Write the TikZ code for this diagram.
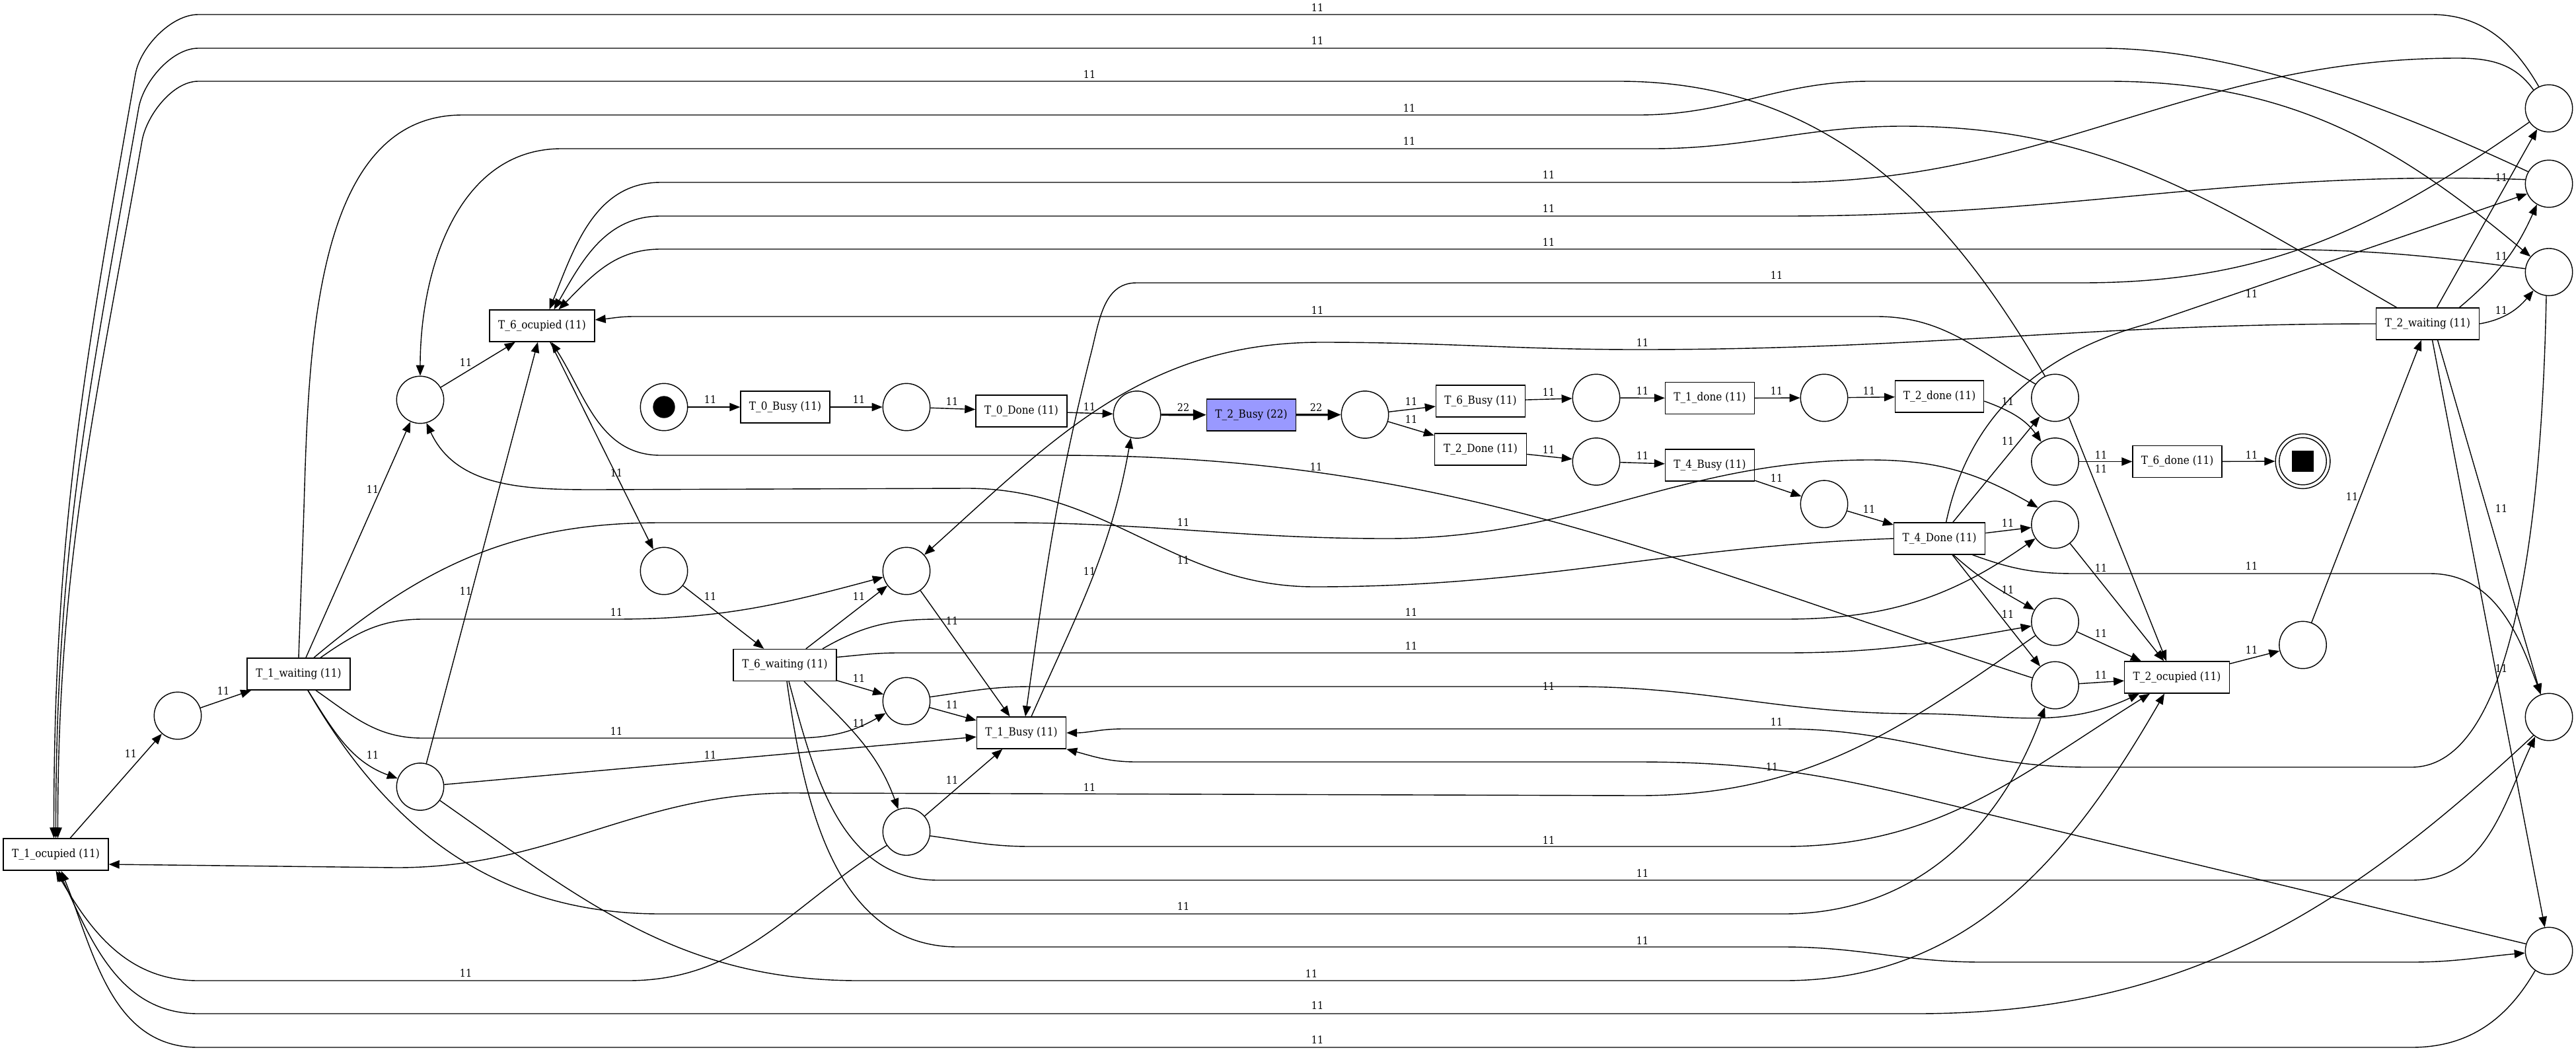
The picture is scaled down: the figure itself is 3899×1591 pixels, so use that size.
\documentclass[tikz,border=0pt]{standalone}
\usepackage{fontspec}
\newfontfamily\netfont[FakeStretch=0.9]{DejaVu Serif}
\usetikzlibrary{arrows.meta}
\definecolor{busyfill}{RGB}{153,153,255}
\begin{document}
\begin{tikzpicture}[x=0.5pt,y=-0.5pt,
  place/.style={circle, draw, fill=white, line width=0.7pt, minimum size=35.7pt, inner sep=0pt},
  trans/.style={rectangle, draw, fill=white, line width=0.7pt, minimum height=24pt, minimum width=#1, inner sep=0pt, font=\netfont\fontsize{8.5}{10}\selectfont},
  trans/.default=67.5pt,
  arc/.style={line width=0.7pt, -{Triangle[length=8pt,width=6.25pt]}},
  heavyarc/.style={line width=1.6pt, -{Triangle[length=10pt,width=8pt]}},
  lab/.style={inner sep=0pt, font=\netfont\fontsize{8}{9.5}\selectfont},
]
\fill[white] (0,0) rectangle (3899,1591);
\useasboundingbox (0,0) rectangle (3899,1591);

% transitions
\node[trans=79.5pt] (T1oc) at (84.5,1293) {T\_1\_ocupied (11)};
\node[trans=78pt] (T1w) at (452,1020) {T\_1\_waiting (11)};
\node[trans=79.5pt] (T6oc) at (820.5,493) {T\_6\_ocupied (11)};
\node[trans=67.5pt] (T0B) at (1188.5,616) {T\_0\_Busy (11)};
\node[trans=69pt] (T0D) at (1546,622) {T\_0\_Done (11)};
\node[trans=67.5pt, fill=busyfill] (T2B) at (1894,628) {T\_2\_Busy (22)};
\node[trans=78pt] (T6w) at (1188,1006.5) {T\_6\_waiting (11)};
\node[trans=67.5pt] (T1B) at (1546,1109) {T\_1\_Busy (11)};
\node[trans=67.5pt] (T6B) at (2241,607) {T\_6\_Busy (11)};
\node[trans=69.5pt] (T2D) at (2241,680) {T\_2\_Done (11)};
\node[trans=67.5pt] (T1d) at (2588,602.5) {T\_1\_done (11)};
\node[trans=67.5pt] (T4B) at (2588,704) {T\_4\_Busy (11)};
\node[trans=67pt] (T2d) at (2935.6,600) {T\_2\_done (11)};
\node[trans=69pt] (T4D) at (2935.6,815) {T\_4\_Done (11)};
\node[trans=67.5pt] (T6d) at (3295.5,698.5) {T\_6\_done (11)};
\node[trans=78pt] (T2w) at (3674.5,490) {T\_2\_waiting (11)};
\node[trans=79.25pt] (T2oc) at (3295,1025) {T\_2\_ocupied (11)};

% places
\node[place] (pA) at (636,605) {};
\node[place] (pB) at (269,1083) {};
\node[place] (pC) at (636,1190.5) {};
\node[place] (pS0) at (1005,616) {};
\node[circle, fill=black, minimum size=16.7pt, inner sep=0pt] (tok) at (pS0) {};
\node[place] (pD) at (1372,616) {};
\node[place] (pE) at (1721,627.5) {};
\node[place] (pF) at (1005,864) {};
\node[place] (pG) at (1372,864) {};
\node[place] (pH) at (1372,1061) {};
\node[place] (pI) at (1372,1258.6) {};
\node[place] (pJ) at (2066,627.5) {};
\node[place] (pK) at (2416,602) {};
\node[place] (pL) at (2416,698.5) {};
\node[place] (pM) at (2761,602) {};
\node[place] (pN) at (2761,762.8) {};
\node[place] (pO) at (3110.5,602) {};
\node[place] (pP) at (3110.5,698.5) {};
\node[circle, draw, line width=0.7pt, minimum size=41.4pt, inner sep=0pt] (pEndo) at (3485.5,698) {};
\node[place] (pEnd) at (3485.5,698) {};
\node[fill=black, minimum size=16.3pt, inner sep=0pt] (sq) at (pEnd) {};
\node[place] (pQ) at (3858,164) {};
\node[place] (pR) at (3858,278) {};
\node[place] (pS) at (3858,411.7) {};
\node[place] (pT) at (3110.5,794) {};
\node[place] (pU) at (3110.5,941) {};
\node[place] (pV) at (3110.5,1037) {};
\node[place] (pW) at (3485.5,976) {};
\node[place] (pX) at (3858,1085) {};
\node[place] (pY) at (3858,1439) {};

% main chain
\draw[arc] (pS0) -- (T0B);
\draw[arc] (T0B) -- (pD);
\draw[arc] (pD) -- (T0D);
\draw[arc] (T0D) -- (pE);
\draw[heavyarc] (pE) -- (T2B);
\draw[heavyarc] (T2B) -- (pJ);
\draw[arc] (pJ) -- (T6B);
\draw[arc] (pJ) -- (T2D);
\draw[arc] (T6B) -- (pK);
\draw[arc] (pK) -- (T1d);
\draw[arc] (T1d) -- (pM);
\draw[arc] (pM) -- (T2d);
\draw[arc] (T2D) -- (pL);
\draw[arc] (pL) -- (T4B);
\draw[arc] (T4B) -- (pN);
\draw[arc] (pN) -- (T4D);
\draw[arc] ([yshift=-3.5pt]T2d.east) to[out=-20,in=125] (pP.125);
\draw[arc] (pP) -- (T6d);
\draw[arc] (T6d) -- (pEndo);

% T_4_Done outputs
\draw[arc] (T4D) -- (pO);
\draw[arc] ([xshift=5pt]T4D.north) to[out=78,in=195] (3251,490) -- (pR.205);
\draw[arc] (T4D) -- (pT);
\draw[arc] ([xshift=10.5pt]T4D.south) to[out=-42,in=150] (pU.150);
\draw[arc] (T4D) -- (pV);
\draw[arc] ([xshift=25pt]T4D.south) to[out=-20,in=180] (3140,868) -- (3678,868) to[out=0,in=110] (pX.110);
\draw[arc] (T4D.west) to[out=182,in=0] (1990,888) to[out=180,in=0] (1464,739) -- (900,741) to[out=180,in=-65] (pA.-75);

% T_2_waiting outputs
\draw[arc] (T2w) -- (pQ);
\draw[arc] ([xshift=24pt]T2w.north) to[out=40,in=-114] (pR.-120);
\draw[arc] (T2w.east) to[out=10,in=-130] (pS.-130);
\draw[arc] ([xshift=7.5pt]T2w.south) -- (pX.110);
\draw[arc] ([xshift=3.5pt]T2w.south) -- (pY.100);
\draw[arc] ([xshift=-23.5pt]T2w.north) to[out=150,in=0] (2880,191) to[out=180,in=0] (2500,225) -- (850,225) to[out=180,in=90] (pA.north);
\draw[arc] (T2w.west) to[out=180,in=0] (2480,529) to[out=180,in=0] (2000,518) to[out=180,in=42] (pG.42);
\draw[arc] (T2oc) -- (pW);
\draw[arc] (pW) -- (T2w);

% T_1_waiting outputs
\draw[arc] (T1w.north) -- (459,800) to[out=88,in=180,looseness=0.9] (700,174) -- (2480,174) to[out=0,in=180] (2830,123) -- (3190,123) to[out=0,in=140] (pS.140);
\draw[arc] (T1w) -- (pA);
\draw[arc] ([xshift=11.5pt]T1w.north) to[out=40,in=180] (1000,791) -- (1520,791) to[out=0,in=180] (2100,815) to[out=0,in=180] (2830,696) to[out=0,in=150] (pT.135);
\draw[arc] ([xshift=16.5pt]T1w.north) to[out=35,in=180] (640,937) -- (930,937) to[out=0,in=195] (pG.195);
\draw[arc] ([xshift=13pt]T1w.south) to[out=-35,in=180] (640,1117) -- (1200,1117) to[out=0,in=210] (pH.210);
\draw[arc] ([xshift=7pt]T1w.south) to[out=-58,in=160] (pC.160);
\draw[arc] ([xshift=7pt]T1w.south) to[out=-60,in=180] (1000,1383) -- (2700,1383) to[out=0,in=-110] (pV.-115);
\draw[arc] (pB) -- (T1w);
\draw[arc] (T1oc) -- (pB);

% T_6_waiting outputs
\draw[arc] (T6oc) -- (pF);
\draw[arc] (pF) -- (T6w);
\draw[arc] (T6w) -- (pG);
\draw[arc] (T6w) -- (pH);
\draw[arc] ([xshift=14.5pt]T6w.south) to[out=-45,in=110] (pI.110);
\draw[arc] ([xshift=28.5pt]T6w.north) to[out=30,in=180] (1420,937) -- (2700,937) to[out=0,in=215] (pT.215);
\draw[arc] ([yshift=6pt]T6w.east) to[out=5,in=180] (1360,988) -- (2700,988) to[out=0,in=190] (pU.190);
\draw[arc] ([xshift=3pt]T6w.south) to[out=-75,in=180] (1420,1332) -- (3650,1332) to[out=0,in=-115] (pX.-125);
\draw[arc] ([xshift=1.5pt]T6w.south) to[out=-82,in=180] (1450,1433) -- (2700,1433) to[out=0,in=180] (3000,1456) -- (3650,1456) to[out=0,in=185] (pY.185);

% inputs of T_6_ocupied
\draw[arc] (pA) -- (T6oc);
\draw[arc] (pC) -- (T6oc);
\draw[arc] (pQ.130) to[out=125,in=0] (3720,88) to[out=180,in=0] (2700,276) -- (1000,276) to[out=180,in=68] ([xshift=5.5pt]T6oc.north);
\draw[arc] (pR.170) to[out=178,in=0] (2700,327) -- (1000,327) to[out=180,in=60] ([xshift=9pt]T6oc.north);
\draw[arc] (pS.172) to[out=172,in=0] (3400,377) -- (1000,377) to[out=180,in=45] ([xshift=12.5pt]T6oc.north);
\draw[arc] (pO.145) to[out=150,in=0] (2840,479) -- (960,479) to[out=180,in=5] ([yshift=4.5pt]T6oc.east);
\draw[arc] (pV.162) to[out=162,in=0] (1600,689) -- (1000,689) to[out=180,in=-57] ([xshift=7pt]T6oc.south);

% inputs of T_1_ocupied
\draw[arc] (pQ.115) to[out=120,in=0] (3680,22) -- (300,22) to[out=180,in=80,looseness=0.8] (205,112) to[out=260,in=90] ([xshift=-1.5pt]T1oc.north);
\draw[arc] (pR.150) to[out=155,in=0,looseness=0.8] (3180,73) -- (300,73) to[out=180,in=80,looseness=0.8] (210,163) to[out=260,in=90] (T1oc.north);
\draw[arc] (pO.115) to[out=120,in=0] (2450,123) -- (300,123) to[out=180,in=80,looseness=0.8] (215,213) to[out=260,in=90] ([xshift=1.5pt]T1oc.north);
\draw[arc] (pU.215) to[out=215,in=0] (2480,1204) -- (1200,1200) to[out=180,in=0] (600,1313) -- ([yshift=-7.5pt]T1oc.east);
\draw[arc] (pI.215) to[out=212,in=0] (950,1484) -- (300,1484) to[out=180,in=-60] (T1oc.south);
\draw[arc] (pX.230) to[out=223,in=0] (2900,1534) -- (300,1534) to[out=180,in=-65] ([xshift=2pt]T1oc.south);
\draw[arc] (pY.235) to[out=240,in=0] (3650,1585) -- (300,1585) to[out=180,in=-68] ([xshift=4pt]T1oc.south);

% inputs of T_1_Busy
\draw[arc] (pG) -- (T1B);
\draw[arc] (pH) -- (T1B);
\draw[arc] (pI) -- (T1B);
\draw[arc] (pC) -- (T1B);
\draw[arc] (pQ.215) to[out=215,in=0] (3150,428) -- (1720,428) to[out=180,in=75] (1650,540) to[out=256,in=82] ([xshift=3pt]T1B.north);
\draw[arc] ([xshift=-2pt]pS.south) .. controls (3845,900) and (3780,1161) .. (3650,1161) -- (3160,1161) to[out=180,in=0] (2700,1103) -- (1700,1103) to[out=180,in=0] (T1B.east);
\draw[arc] (pY.163) -- (3000,1230) to[out=166,in=0] (2480,1153) -- (1720,1153) to[out=180,in=-15] (T1B.south east);
\draw[arc] ([xshift=7.5pt]T1B.north) to[out=66,in=-100] (pE.-105);

% inputs of T_2_ocupied
\draw[arc] (pT) -- (T2oc);
\draw[arc] (pO.-55) -- ([xshift=-8pt]T2oc.north);
\draw[arc] (pU) -- (T2oc);
\draw[arc] (pV) -- (T2oc);
\draw[arc] (pH.10) to[out=8,in=180] (1560,1039) -- (2380,1039) to[out=0,in=180] (2900,1080) to[out=0,in=205] ([xshift=-28.5pt]T2oc.south);
\draw[arc] (pI.-10) to[out=-8,in=180] (1560,1281) -- (2700,1281) to[out=0,in=212] ([xshift=-20.5pt]T2oc.south);
\draw[arc] (pC.-35) to[out=-35,in=180] (1300,1484) -- (2700,1484) to[out=0,in=-120] ([xshift=-9.5pt]T2oc.south);

% arc weights
\node[lab] (l01) at (1075,605) {11};
\node[lab] (l02) at (1300,605) {11};
\node[lab] (l03) at (1441,608) {11};
\node[lab] (l04) at (1649,616) {11};
\node[lab] (l05) at (1791,617) {22};
\node[lab] (l06) at (1992,617) {22};
\node[lab] (l07) at (2136,608) {11};
\node[lab] (l08) at (2136,635) {11};
\node[lab] (l09) at (2344,594) {11};
\node[lab] (l10) at (2486,592) {11};
\node[lab] (l11) at (2689,592) {11};
\node[lab] (l12) at (2829,592) {11};
\node[lab] (l13) at (2344,681) {11};
\node[lab] (l14) at (2486,690) {11};
\node[lab] (l15) at (2689,724) {11};
\node[lab] (l16) at (2829,771) {11};
\node[lab] (l17) at (3039,608) {11};
\node[lab] (l18) at (3180,689) {11};
\node[lab] (l19) at (3408,689) {11};
\node[lab] (l20) at (3039,668) {11};
\node[lab] (l21) at (3408,445) {11};
\node[lab] (l22) at (3039,792) {11};
\node[lab] (l23) at (3039,893) {11};
\node[lab] (l24) at (3039,930) {11};
\node[lab] (l25) at (3408,857) {11};
\node[lab] (l26) at (1791,848) {11};
\node[lab] (l27) at (1994,470) {11};
\node[lab] (l28) at (1649,113) {11};
\node[lab] (l29) at (3180,710) {11};
\node[lab] (l30) at (1994,12) {11};
\node[lab] (l31) at (1994,62) {11};
\node[lab] (l32) at (2344,265) {11};
\node[lab] (l33) at (2344,316) {11};
\node[lab] (l34) at (2344,367) {11};
\node[lab] (l35) at (2689,417) {11};
\node[lab] (l36) at (2689,1093) {11};
\node[lab] (l37) at (2682,1161) {11};
\node[lab] (l38) at (3786,269) {11};
\node[lab] (l39) at (3786,388) {11};
\node[lab] (l40) at (3786,470) {11};
\node[lab] (l41) at (3786,770) {11};
\node[lab] (l42) at (3786,1012) {11};
\node[lab] (l43) at (2133,214) {11};
\node[lab] (l44) at (2486,519) {11};
\node[lab] (l45) at (3560,752) {11};
\node[lab] (l46) at (3408,984) {11};
\node[lab] (l47) at (3180,860) {11};
\node[lab] (l48) at (3180,959) {11};
\node[lab] (l49) at (3180,1022) {11};
\node[lab] (l50) at (1992,707) {11};
\node[lab] (l51) at (1649,1192) {11};
\node[lab] (l52) at (2133,164) {11};
\node[lab] (l53) at (564,741) {11};
\node[lab] (l54) at (1791,791) {11};
\node[lab] (l55) at (933,927) {11};
\node[lab] (l56) at (933,1107) {11};
\node[lab] (l57) at (564,1143) {11};
\node[lab] (l58) at (1791,1372) {11};
\node[lab] (l59) at (338,1046) {11};
\node[lab] (l60) at (198,1141) {11};
\node[lab] (l61) at (705,549) {11};
\node[lab] (l62) at (705,895) {11};
\node[lab] (l63) at (1075,1143) {11};
\node[lab] (l64) at (1985,1474) {11};
\node[lab] (l65) at (933,716) {11};
\node[lab] (l66) at (1075,903) {11};
\node[lab] (l67) at (1300,903) {11};
\node[lab] (l68) at (1300,1027) {11};
\node[lab] (l69) at (1300,1095) {11};
\node[lab] (l70) at (1441,940) {11};
\node[lab] (l71) at (1441,1067) {11};
\node[lab] (l72) at (1441,1181) {11};
\node[lab] (l73) at (1649,865) {11};
\node[lab] (l74) at (2136,927) {11};
\node[lab] (l75) at (2136,978) {11};
\node[lab] (l76) at (2486,1322) {11};
\node[lab] (l77) at (2486,1424) {11};
\node[lab] (l78) at (2344,1039) {11};
\node[lab] (l79) at (2344,1272) {11};
\node[lab] (l80) at (705,1473) {11};
\node[lab] (l81) at (1994,1522) {11};
\node[lab] (l82) at (1994,1574) {11};
\end{tikzpicture}
\end{document}
